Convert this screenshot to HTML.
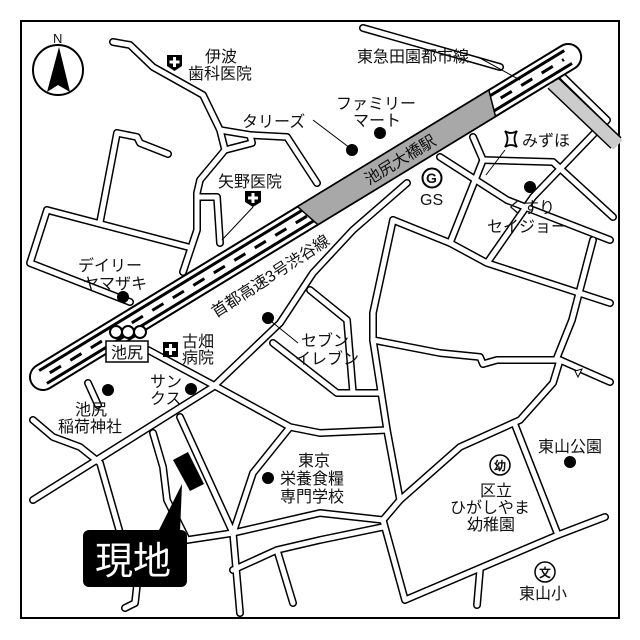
<!DOCTYPE html>
<html><head><meta charset="utf-8"><style>
html,body{margin:0;padding:0;background:#fff}
svg{display:block;font-family:"Liberation Sans","Noto Sans CJK JP",sans-serif;font-size:16px}
text{fill:#111}
</style></head><body>
<svg width="640" height="640" viewBox="0 0 640 640" xmlns="http://www.w3.org/2000/svg">
<defs>
<g id="roads">
<polyline points="113,42 130,45 153,67 203,95 220,130 225,150 200,180 197,193 197,230 183,272"/>
<polyline points="220,130 250,135 287,137 317,183"/>
<polyline points="225,150 252,143 250,135"/>
<polyline points="197,197 217,197 220,243"/>
<polyline points="117,133 137,137 140,143 168,154"/>
<polyline points="117,133 100,222"/>
<polyline points="47,210 188,247"/>
<polyline points="47,210 30,263 130,302"/>
<polyline points="363,28 500,67"/>
<polyline points="563,77 607,120 533,197 487,263"/>
<polyline points="440,157 507,200 610,240"/>
<polyline points="473,137 483,160 553,162 613,217"/>
<polyline points="483,160 450,243"/>
<polyline points="393,220 450,243 487,263 610,303"/>
<polyline points="593,240 572,320 556,360"/>
<polyline points="407,183 353,230 313,273 280,323 213,387 33,500"/>
<polyline points="393,220 373,313 373,340 387,430 400,500"/>
<polyline points="373,340 440,353 480,357 483,364 497,360 560,360 610,382"/>
<polyline points="560,360 553,383 520,420 460,447 400,500 383,520 320,513 233,533"/>
<polyline points="515,425 558,535"/>
<polyline points="383,520 405,600 558,535 605,517"/>
<polyline points="480,570 477,605"/>
<polyline points="310,290 347,320 353,393"/>
<polyline points="273,343 337,393 380,393"/>
<polyline points="148,350 217,387 290,427 320,433 387,430"/>
<polyline points="290,427 253,473 233,533 240,613"/>
<polyline points="233,570 277,550 293,603"/>
<polyline points="277,550 320,540 383,527"/>
<polyline points="180,417 233,533"/>
<polyline points="33,420 53,437 80,447 100,463 120,533"/>
<polyline points="153,433 163,467 167,500 187,540 233,533"/>
<polyline points="137,585 135,603 125,608"/>
<polyline points="88,383 98,405"/>
</g>
</defs>
<rect x="21" y="21" width="598" height="597" fill="#fff" stroke="#000" stroke-width="2"/>
<use href="#roads" fill="none" stroke="#000" stroke-width="8" stroke-linejoin="round" stroke-linecap="round"/>
<use href="#roads" fill="none" stroke="#fff" stroke-width="5" stroke-linejoin="round" stroke-linecap="round"/>
<polygon points="575,371 582,369 578,377" fill="#fff" stroke="#000" stroke-width="1"/>
<line x1="553" y1="83" x2="616" y2="143" stroke="#000" stroke-width="16"/>
<line x1="553" y1="83" x2="618" y2="145" stroke="#ccc" stroke-width="13"/>
<g transform="translate(43,377) rotate(-31.36)">
<line x1="0" y1="0" x2="615" y2="0" stroke="#000" stroke-width="28" stroke-linecap="round"/>
<line x1="0" y1="0" x2="615" y2="0" stroke="#fff" stroke-width="24" stroke-linecap="round"/>
<line x1="0" y1="-7.5" x2="615" y2="-7.5" stroke="#000" stroke-width="3"/>
<line x1="0" y1="7.5" x2="615" y2="7.5" stroke="#000" stroke-width="3"/>
<line x1="8" y1="0" x2="610" y2="0" stroke="#000" stroke-width="3" stroke-dasharray="13 11"/>
<polygon points="306,-13 530,-13 522,13 314,13" fill="#a8a8a8" stroke="#000" stroke-width="1.5"/>
<text x="418" y="6" font-size="16" text-anchor="middle">池尻大橋駅</text>
</g>
<circle cx="58" cy="70" r="25" fill="#fff" stroke="#000" stroke-width="2"/>
<polygon points="59,47 47,92 58,85 70,92" fill="#000"/>
<text x="53" y="43" font-size="13">N</text>
<circle cx="116" cy="332" r="6" fill="#fff" stroke="#000" stroke-width="2"/>
<circle cx="128" cy="332" r="6" fill="#fff" stroke="#000" stroke-width="2"/>
<circle cx="140" cy="332" r="6" fill="#fff" stroke="#000" stroke-width="2"/>
<rect x="106" y="341" width="42" height="21" fill="#fff" stroke="#000" stroke-width="1.5"/>
<text x="111" y="358" font-size="16">池尻</text>
<g fill="#000">
<path d="M167,55 h15 v11 l-7.5,5 l-7.5,-5z"/><path d="M245,191 h16 v11 l-8,5 l-8,-5z"/><path d="M163,342 h15 v15 h-15z"/>
</g>
<g stroke="#fff" stroke-width="3">
<path d="M174.5,57 v10 M169.5,62 h10"/><path d="M253,193 v10 M248,198 h10"/><path d="M170.5,344 v11 M165,349.5 h11"/>
</g>
<g fill="#000">
<circle cx="352" cy="150" r="6"/><circle cx="380" cy="133" r="6"/><circle cx="123" cy="297" r="6"/>
<circle cx="530" cy="187" r="6"/><circle cx="268" cy="318" r="6"/><circle cx="191" cy="389" r="6"/>
<circle cx="108" cy="390" r="6"/><circle cx="268" cy="478" r="6"/><circle cx="570" cy="462" r="6"/>
</g>
<g stroke="#000" stroke-width="1" fill="none">
<line x1="313" y1="120" x2="350" y2="148"/><line x1="253" y1="207" x2="222" y2="240"/>
<line x1="272" y1="322" x2="298" y2="343"/><line x1="505" y1="150" x2="486" y2="175"/>
<line x1="478" y1="57" x2="520" y2="80"/>
</g>
<circle cx="432" cy="178" r="9.5" fill="#fff" stroke="#000" stroke-width="2"/>
<text x="426" y="183" font-size="14" font-weight="bold">G</text>
<text x="420" y="205" font-size="16">GS</text>
<path d="M505,131 q6,4 12,0 q-5,8 0,16 q-6,-4 -12,0 q5,-8 0,-16z" fill="#fff" stroke="#000" stroke-width="1.8"/>
<g font-size="16">
<text x="205" y="62">伊波</text>
<text x="188" y="79">歯科医院</text>
<text x="242" y="127">タリーズ</text>
<text x="336" y="109">ファミリー</text>
<text x="353" y="126">マート</text>
<text x="357" y="62">東急田園都市線</text>
<text x="218" y="187">矢野医院</text>
<text x="78" y="271">デイリー</text>
<text x="83" y="289">ヤマザキ</text>
<text x="522" y="146">みずほ</text>
<text x="507" y="213">くすり</text>
<text x="487" y="232">セイジョー</text>
<text x="301" y="346">セブン</text>
<text x="295" y="364">イレブン</text>
<text x="182" y="347">古畑</text>
<text x="182" y="363">病院</text>
<text x="150" y="387">サン</text>
<text x="150" y="404">クス</text>
<text x="75" y="415">池尻</text>
<text x="58" y="432">稲荷神社</text>
<text x="298" y="466">東京</text>
<text x="280" y="484">栄養食糧</text>
<text x="280" y="502">専門学校</text>
<text x="538" y="452">東山公園</text>
<text x="480" y="496">区立</text>
<text x="450" y="513">ひがしやま</text>
<text x="467" y="530">幼稚園</text>
<text x="519" y="599">東山小</text>
</g>
<text x="0" y="0" font-size="16" transform="translate(216,318) rotate(-33)">首都高速3号渋谷線</text>
<circle cx="500" cy="465" r="10" fill="#fff" stroke="#000" stroke-width="1.5"/>
<text x="494" y="470" font-size="12" font-weight="bold">幼</text>
<circle cx="545" cy="572" r="10" fill="#fff" stroke="#000" stroke-width="1.5"/>
<text x="539" y="577" font-size="12" font-weight="bold">文</text>
<polygon points="173,460 188,452 204,484 190,491" fill="#000"/>
<polygon points="182,484 158,532 180,532" fill="#000"/>
<rect x="83" y="530" width="104" height="57" rx="6" fill="#000"/>
<text x="95" y="574" font-size="38" style="fill:#fff">現地</text>
</svg>
</body></html>
